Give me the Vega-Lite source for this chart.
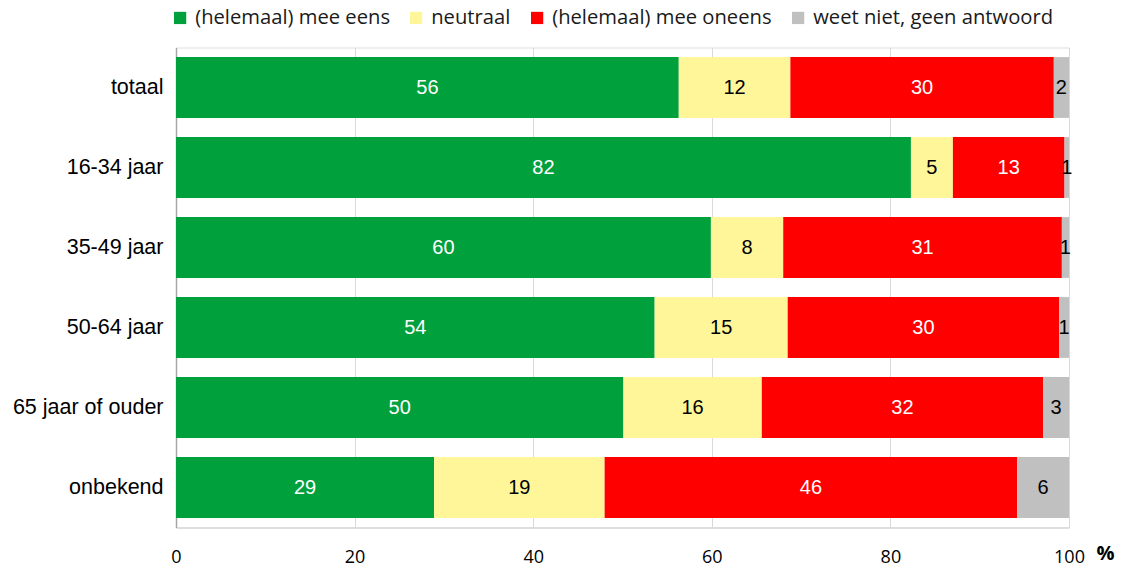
{
  "$schema": "https://vega.github.io/schema/vega-lite/v6.json",
  "autosize": {"type": "none"},
  "width": 893,
  "height": 480,
  "padding": {"left": 176, "top": 47.5, "right": 54, "bottom": 40.5},
  "background": "white",
  "data": {"values": [
    {"cat": "totaal", "ans": "(helemaal) mee eens", "o": 1, "v": 56.3, "lab": "56"},
    {"cat": "totaal", "ans": "neutraal", "o": 2, "v": 12.5, "lab": "12"},
    {"cat": "totaal", "ans": "(helemaal) mee oneens", "o": 3, "v": 29.5, "lab": "30"},
    {"cat": "totaal", "ans": "weet niet, geen antwoord", "o": 4, "v": 1.7, "lab": "2"},
    {"cat": "16-34 jaar", "ans": "(helemaal) mee eens", "o": 1, "v": 82.3, "lab": "82"},
    {"cat": "16-34 jaar", "ans": "neutraal", "o": 2, "v": 4.7, "lab": "5"},
    {"cat": "16-34 jaar", "ans": "(helemaal) mee oneens", "o": 3, "v": 12.5, "lab": "13"},
    {"cat": "16-34 jaar", "ans": "weet niet, geen antwoord", "o": 4, "v": 0.5, "lab": "1"},
    {"cat": "35-49 jaar", "ans": "(helemaal) mee eens", "o": 1, "v": 59.9, "lab": "60"},
    {"cat": "35-49 jaar", "ans": "neutraal", "o": 2, "v": 8.1, "lab": "8"},
    {"cat": "35-49 jaar", "ans": "(helemaal) mee oneens", "o": 3, "v": 31.2, "lab": "31"},
    {"cat": "35-49 jaar", "ans": "weet niet, geen antwoord", "o": 4, "v": 0.8, "lab": "1"},
    {"cat": "50-64 jaar", "ans": "(helemaal) mee eens", "o": 1, "v": 53.6, "lab": "54"},
    {"cat": "50-64 jaar", "ans": "neutraal", "o": 2, "v": 14.9, "lab": "15"},
    {"cat": "50-64 jaar", "ans": "(helemaal) mee oneens", "o": 3, "v": 30.4, "lab": "30"},
    {"cat": "50-64 jaar", "ans": "weet niet, geen antwoord", "o": 4, "v": 1.1, "lab": "1"},
    {"cat": "65 jaar of ouder", "ans": "(helemaal) mee eens", "o": 1, "v": 50.1, "lab": "50"},
    {"cat": "65 jaar of ouder", "ans": "neutraal", "o": 2, "v": 15.5, "lab": "16"},
    {"cat": "65 jaar of ouder", "ans": "(helemaal) mee oneens", "o": 3, "v": 31.5, "lab": "32"},
    {"cat": "65 jaar of ouder", "ans": "weet niet, geen antwoord", "o": 4, "v": 2.9, "lab": "3"},
    {"cat": "onbekend", "ans": "(helemaal) mee eens", "o": 1, "v": 28.9, "lab": "29"},
    {"cat": "onbekend", "ans": "neutraal", "o": 2, "v": 19.1, "lab": "19"},
    {"cat": "onbekend", "ans": "(helemaal) mee oneens", "o": 3, "v": 46.2, "lab": "46"},
    {"cat": "onbekend", "ans": "weet niet, geen antwoord", "o": 4, "v": 5.8, "lab": "6"}
  ]},
  "transform": [
    {"stack": "v", "groupby": ["cat"], "sort": [{"field": "o", "order": "ascending"}], "as": ["v0", "v1"]},
    {"calculate": "(datum.v0 + datum.v1) / 2", "as": "mid"}
  ],
  "encoding": {
    "y": {
      "field": "cat", "type": "nominal",
      "sort": ["totaal", "16-34 jaar", "35-49 jaar", "50-64 jaar", "65 jaar of ouder", "onbekend"],
      "scale": {"paddingInner": 0.24, "paddingOuter": 0.12},
      "axis": {
        "title": null, "ticks": false, "domainColor": "#a6a6a6", "domainWidth": 1.5,
        "labelFont": "Liberation Sans", "labelFontSize": 21.5, "labelColor": "#000000",
        "labelPadding": 13, "grid": false, "labelLimit": 300
      }
    }
  },
  "layer": [
    {
      "mark": {"type": "bar"},
      "encoding": {
        "x": {
          "field": "v0", "type": "quantitative",
          "scale": {"domain": [0, 100], "nice": false},
          "axis": {
            "values": [0, 20, 40, 60, 80, 100], "grid": true, "gridColor": "#d9d9d9", "gridWidth": 1,
            "ticks": false, "domainColor": "#d9d9d9", "domainWidth": 1.5,
            "labelFont": "Open Sans", "labelFontSize": 18, "labelColor": "#000000", "labelPadding": 21,
            "labelFlush": false,
            "title": "%", "titleAngle": 0, "titleX": 929, "titleY": 26, "titleBaseline": "middle",
            "titleFont": "Open Sans", "titleFontSize": 20, "titleFontWeight": "bold", "titleColor": "#000000",
            "titleAlign": "center"
          }
        },
        "x2": {"field": "v1"},
        "color": {
          "field": "ans", "type": "nominal",
          "scale": {
            "domain": ["(helemaal) mee eens", "neutraal", "(helemaal) mee oneens", "weet niet, geen antwoord"],
            "range": ["#00a03c", "#fff599", "#ff0000", "#c0c0c0"]
          },
          "legend": {
            "title": null, "orient": "none", "direction": "horizontal",
            "legendX": -6, "legendY": -40,
            "symbolType": "square", "symbolSize": 150, "symbolStrokeWidth": 0,
            "labelFont": "Open Sans", "labelFontSize": 20.2, "labelColor": "#1a1a1a",
            "labelOffset": 5, "columnPadding": 16, "labelLimit": 400
          }
        }
      }
    },
    {
      "mark": {"type": "text", "font": "Liberation Sans", "fontSize": 20, "baseline": "middle", "align": "center"},
      "encoding": {
        "x": {"field": "mid", "type": "quantitative"},
        "text": {"field": "lab"},
        "color": {
          "condition": {"test": "datum.o == 1 || datum.o == 3", "value": "#ffffff"},
          "value": "#000000"
        }
      }
    }
  ]
}
